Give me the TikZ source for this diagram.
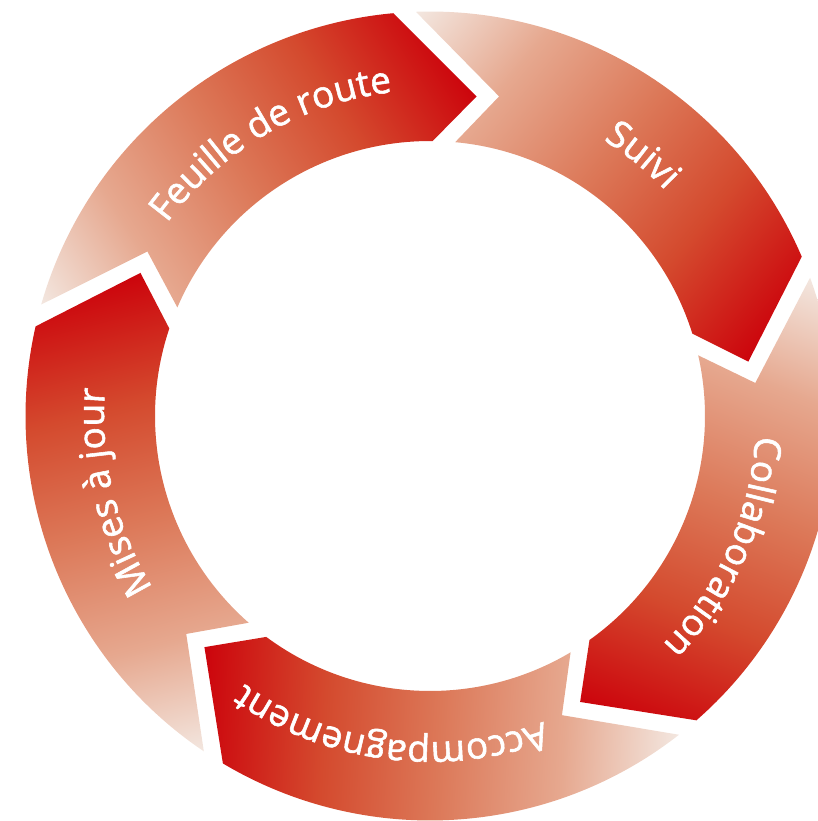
\documentclass[tikz,border=0pt]{standalone}
\usepackage{fontspec}
\newfontfamily\lblfamily{Open Sans}[FakeBold=1.5]
\usetikzlibrary{decorations.text}
\definecolor{c1}{RGB}{243,231,224}
\definecolor{c2}{RGB}{230,168,143}
\definecolor{c3}{RGB}{220,120,88}
\definecolor{c4}{RGB}{212,74,46}
\definecolor{c5}{RGB}{204,4,12}
\pgfdeclarehorizontalshading{segshade}{100bp}{color(0bp)=(c1); color(25bp)=(c1); color(37bp)=(c2); color(50bp)=(c3); color(62bp)=(c4); color(75bp)=(c5); color(100bp)=(c5)}
\newcommand\lblfont{\lblfamily\fontsize{37}{44}\selectfont}
\tikzset{
  seg/.style={shading=segshade},
  lbl/.style={decorate, decoration={text along path, text align=center, text color=white, text={|\lblfont|#1}}}
}
\begin{document}
\begin{tikzpicture}[x=1pt,y=1pt]
\useasboundingbox (-430,-405) rectangle (388,416);
\clip (-430,-405) rectangle (388,416);
\foreach \r in {32.5,-39.5,-111.5,-183.5,-255.5}{
  \begin{scope}[transform canvas={rotate=\r}]
    \shade[seg] (131.5:404.5) arc[start angle=131.5, end angle=62.7, radius=404.5]
      -- (49.2:323) -- (56.95:275)
      arc[start angle=56.95, end angle=124.25, radius=275]
      -- (117.3:327) -- cycle;
  \end{scope}
}
\path[lbl={Feuille de route}] (165.2:326) arc[start angle=165.2, end angle=75.2, radius=326];
\path[lbl={Suivi}] (95.8:326) arc[start angle=95.8, end angle=5.8, radius=326];
\path[lbl={Collaboration}] (21:326) arc[start angle=21, end angle=-69, radius=326];
\path[lbl={Accompagnement}] (-52.2:326) arc[start angle=-52.2, end angle=-142.2, radius=326];
\path[lbl={Mises à jour}] (238.5:326) arc[start angle=238.5, end angle=148.5, radius=326];
\end{tikzpicture}
\end{document}
